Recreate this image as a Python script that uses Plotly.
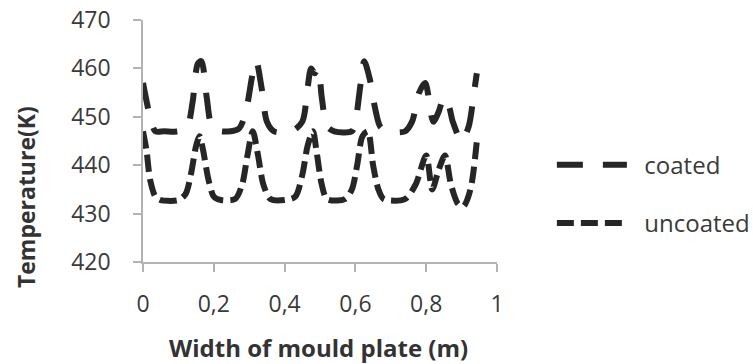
import plotly.graph_objects as go

coated_x = [0.0, 0.02, 0.035, 0.06, 0.1, 0.125, 0.14, 0.155, 0.165, 0.18, 0.195, 0.22, 0.27, 0.29,
            0.31, 0.32, 0.335, 0.35, 0.37, 0.42, 0.45, 0.465, 0.475, 0.485, 0.495, 0.505, 0.52, 0.54,
            0.59, 0.6, 0.615, 0.625, 0.64, 0.655, 0.67, 0.69, 0.74, 0.76, 0.78, 0.797, 0.82, 0.835,
            0.85, 0.865, 0.875, 0.9, 0.92, 0.935, 0.943]
coated_y = [457, 450, 447, 447, 447, 448, 453, 461, 461.5, 454, 448, 447, 447.5, 451,
            459, 461.5, 456, 449, 447, 447, 449, 456, 460, 459, 460, 454, 448, 447,
            447, 449, 457, 461.5, 458, 452, 448, 447, 447, 449, 455, 457, 449, 451,
            454, 452, 449, 445, 448, 455, 459]

uncoated_x = [0.0, 0.01, 0.02, 0.035, 0.05, 0.1, 0.12, 0.135, 0.15, 0.16, 0.17, 0.185, 0.2, 0.22,
              0.26, 0.28, 0.295, 0.31, 0.325, 0.34, 0.36, 0.4, 0.43, 0.45, 0.465, 0.48, 0.49,
              0.505, 0.52, 0.57, 0.59, 0.605, 0.62, 0.635, 0.65, 0.665, 0.68, 0.74, 0.77, 0.8,
              0.817, 0.835, 0.853, 0.87, 0.89, 0.905, 0.925, 0.943]
uncoated_y = [447, 443, 437, 433.5, 432.8, 432.8, 434, 438, 444, 446, 443, 437, 433.5, 432.8,
              433, 436, 442, 447, 442, 436, 433, 432.8, 433.5, 438, 444, 447, 443,
              436, 433, 433, 435, 440, 446, 447, 440, 435, 433, 433, 436, 442,
              435, 439, 442, 436, 432, 431.5, 435, 445]

x_tickvals = [0, 0.2, 0.4, 0.6, 0.8, 1]
x_ticktext = ["0", "0,2", "0,4", "0,6", "0,8", "1"]
y_tickvals = [420, 430, 440, 450, 460, 470]
y_ticktext = ["420", "430", "440", "450", "460", "470"]

FONT = "Open Sans"
LINE_COLOR = "#262626"
AXIS_COLOR = "#b3b3b3"
TEXT_COLOR = "#3a3a3a"

fig = go.Figure()
fig.add_trace(go.Scatter(x=coated_x, y=coated_y, mode="lines", name="  coated", legendgroup="a",
                         line=dict(color=LINE_COLOR, width=6, dash="26px,20px", shape="spline", smoothing=0.8)))
fig.add_trace(go.Scatter(x=uncoated_x, y=uncoated_y, mode="lines", name="  uncoated", legendgroup="b",
                         line=dict(color=LINE_COLOR, width=6, dash="17px,7px", shape="spline", smoothing=0.8)))

fig.update_layout(
    width=753, height=364,
    margin=dict(l=143, r=256, t=20, b=102, autoexpand=False),
    paper_bgcolor="white", plot_bgcolor="white",
    font=dict(family=FONT, size=23, color=TEXT_COLOR),
    showlegend=True,
    legend=dict(x=1.155, y=0.28, xanchor="left", yanchor="middle",
                font=dict(family=FONT, size=24, color=TEXT_COLOR),
                itemwidth=70, traceorder="grouped", tracegroupgap=24, bgcolor="rgba(0,0,0,0)"),
    xaxis=dict(range=[0, 1], tickvals=x_tickvals, ticktext=x_ticktext, automargin=False,
               showline=True, linecolor=AXIS_COLOR, linewidth=1.5, showgrid=False, zeroline=False,
               ticks="outside", ticklen=8, tickcolor=AXIS_COLOR, tickwidth=1.5,
               ticklabelstandoff=13, tickfont=dict(size=23, color=TEXT_COLOR)),
    yaxis=dict(range=[420, 470], tickvals=y_tickvals, ticktext=y_ticktext, automargin=False,
               showline=True, linecolor=AXIS_COLOR, linewidth=1.5, showgrid=False, zeroline=False,
               ticks="outside", ticklen=8, tickcolor=AXIS_COLOR, tickwidth=1.5,
               ticklabelstandoff=18, tickfont=dict(size=23, color=TEXT_COLOR)),
    annotations=[
        dict(text="<b>Temperature(K)</b>", textangle=-90, xref="paper", yref="paper",
             x=-0.33, y=0.269, xanchor="center", yanchor="middle", showarrow=False,
             font=dict(family=FONT, size=23, color="#333333")),
        dict(text="<b>Width of mould plate (m)</b>", xref="paper", yref="paper",
             x=0.497, y=-0.355, xanchor="center", yanchor="middle", showarrow=False,
             font=dict(family=FONT, size=24, color="#333333")),
    ],
)

fig.write_html("out.html", config={"displayModeBar": False},
               post_script="document.body.style.margin='0';document.body.style.overflow='hidden';")
